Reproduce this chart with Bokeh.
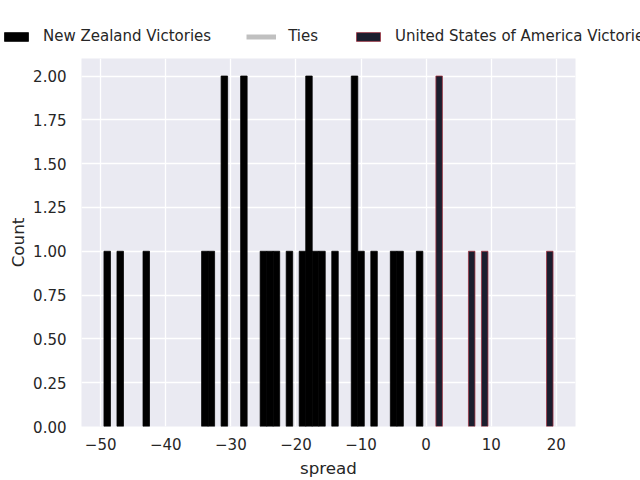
from bokeh.plotting import figure
from bokeh.layouts import column
from bokeh.models import Range1d, FixedTicker, Legend, LegendItem, ColumnDataSource, NumeralTickFormatter
from bokeh.embed import file_html
from bokeh.resources import INLINE

# spread values (integer bins) and counts
nz_spread = [-49, -47, -43, -34, -33, -31, -28, -25, -24, -23, -21, -19, -18, -17, -16, -14, -11, -10, -8, -5, -4, -1]
nz_count = [1, 1, 1, 1, 1, 2, 2, 1, 1, 1, 1, 1, 2, 1, 1, 1, 2, 1, 1, 1, 1, 1]
tie_spread = []
tie_count = []
us_spread = [2, 7, 9, 19]
us_count = [2, 1, 1, 1]

x_ticks = [-50, -40, -30, -20, -10, 0, 10, 20]
y_ticks = [0, 0.25, 0.5, 0.75, 1.0, 1.25, 1.5, 1.75, 2.0]

series_labels = ["New Zealand Victories", "Ties", "United States of America Victories"]
series_fill = ["black", "#c0c0c0", "#1b1e2e"]
series_line = ["black", "#c0c0c0", "#a0303f"]


def src(spread, count):
    return ColumnDataSource(dict(
        left=[s - 0.5 for s in spread],
        right=[s + 0.5 for s in spread],
        top=list(count),
        bottom=[0] * len(count),
    ))


font = "DejaVu Sans"

# ---- main histogram figure ----
p = figure(width=640, height=422, output_backend="svg", toolbar_location=None,
           x_range=Range1d(-52.95, 22.95), y_range=Range1d(0, 2.1),
           min_border_left=81, min_border_right=65, min_border_top=0, min_border_bottom=54)
p.frame_align = False

p.background_fill_color = "#EAEAF2"
p.border_fill_color = "white"
p.outline_line_color = None

series = [(nz_spread, nz_count), (tie_spread, tie_count), (us_spread, us_count)]
for (sp, ct), fc, lc in zip(series, series_fill, series_line):
    p.quad(left="left", right="right", top="top", bottom="bottom", source=src(sp, ct),
           fill_color=fc, line_color=lc, line_width=0.75)

for ax in (p.xaxis[0], p.yaxis[0]):
    ax.axis_line_color = None
    ax.major_tick_line_color = None
    ax.minor_tick_line_color = None
    ax.major_tick_out = 0
    ax.major_tick_in = 0
    ax.minor_tick_out = 0
    ax.major_label_text_font = font
    ax.major_label_text_font_size = "15px"
    ax.major_label_text_color = "#262626"
    ax.axis_label_text_font = font
    ax.axis_label_text_font_size = "16.7px"
    ax.axis_label_text_color = "#262626"
    ax.axis_label_text_font_style = "normal"

p.xaxis.axis_label = "spread"
p.yaxis.axis_label = "Count"
p.xaxis.ticker = FixedTicker(ticks=x_ticks)
p.yaxis.ticker = FixedTicker(ticks=y_ticks)
p.xaxis.major_label_overrides = {t: (("\u2212" + str(abs(t))) if t < 0 else str(t)) for t in x_ticks}
p.yaxis.formatter = NumeralTickFormatter(format="0.00")
p.xaxis.major_label_standoff = 11
p.xaxis.axis_label_standoff = 5
p.yaxis.major_label_standoff = 15
p.yaxis.axis_label_standoff = 2

for g in (p.xgrid[0], p.ygrid[0]):
    g.grid_line_color = "white"
    g.grid_line_width = 1.3

# ---- legend strip above the plot ----
lf = figure(width=640, height=58, output_backend="svg", toolbar_location=None,
            x_range=Range1d(0, 1), y_range=Range1d(0, 1),
            x_axis_location=None, y_axis_location=None,
            min_border_left=0, min_border_right=0, min_border_top=0, min_border_bottom=0)
lf.frame_align = False
lf.outline_line_color = None
lf.background_fill_color = "white"
lf.border_fill_color = "white"
lf.xgrid.visible = False
lf.ygrid.visible = False

# legend swatches (placed outside the visible range of the strip; only their legend entries show)
r_nz_key = lf.quad(left=[5], right=[6], top=[5], bottom=[4],
                   fill_color=series_fill[0], line_color=series_line[0], line_width=0.75)
r_tie_key = lf.line(x=[5, 6], y=[5, 5], line_color=series_fill[1], line_width=5)
r_us_key = lf.quad(left=[5], right=[6], top=[5], bottom=[4],
                   fill_color=series_fill[2], line_color=series_line[2], line_width=0.75)

items = [LegendItem(label=series_labels[0], renderers=[r_nz_key]),
         LegendItem(label=series_labels[1], renderers=[r_tie_key]),
         LegendItem(label=series_labels[2], renderers=[r_us_key])]

legend = Legend(items=items, orientation="horizontal", location=(1, 13),
                padding=0, margin=0, spacing=35, label_standoff=12,
                glyph_width=30, glyph_height=11, label_height=16,
                label_text_font=font, label_text_font_size="15px", label_text_color="#262626",
                background_fill_alpha=0, border_line_alpha=0)
lf.add_layout(legend, "center")

layout = column(lf, p, spacing=0)
open("out.html", "w").write(file_html(layout, INLINE))
